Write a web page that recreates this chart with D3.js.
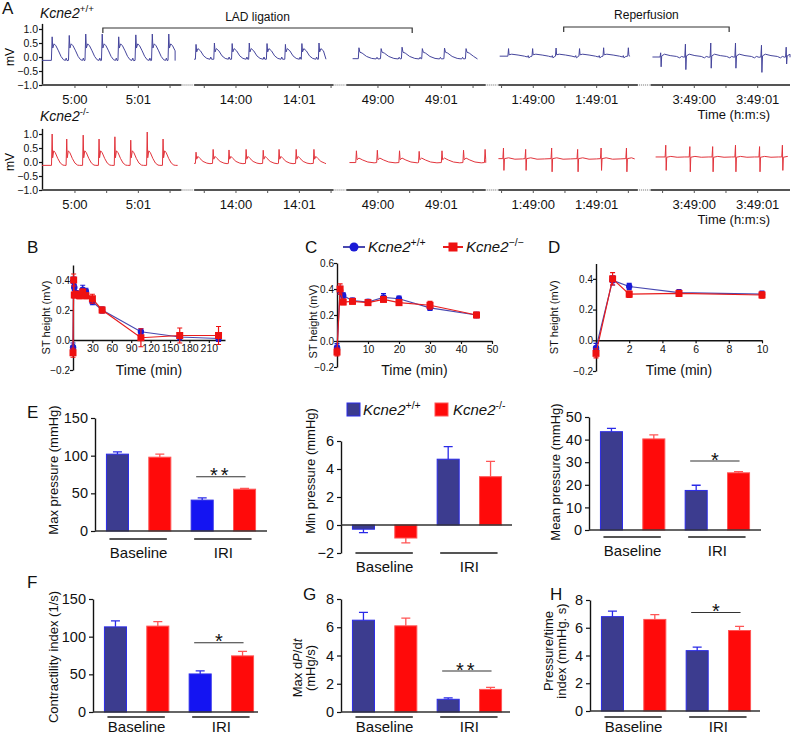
<!DOCTYPE html>
<html>
<head>
<meta charset="utf-8">
<script src="https://cdn.jsdelivr.net/npm/d3@7"></script>
<style>
  body { margin: 0; background: #fff; }
  svg { font-family: "Liberation Sans", Arial, sans-serif; }
</style>
</head>
<body>
<svg width="792" height="736"></svg>
<script>
// ---------- panel A : ECG strips ----------
var stripLabels = [["5:00", "5:01"], ["14:00", "14:01"], ["49:00", "49:01"], ["1:49:00", "1:49:01"], ["3:49:00", "3:49:01"]];
var stripLabelTime = [0.52, 0.66, 0.5, 0.55, 0.69];   // s inside each strip
var mvTicks = [-1, -0.5, 0, 0.5, 1];

var wtSpan = [[0, 2.1], [0, 2.08], [0.1, 2.07], [0.02, 2.07], [0.03, 2.2]];
var wtBeats = [
  [0.16, 0.43, 0.69, 0.95, 1.21, 1.48, 1.74, 2.0],
  [0.03, 0.32, 0.6, 0.87, 1.15, 1.44, 1.7, 1.97],
  [0.2, 0.55, 0.88, 1.2, 1.55, 1.89],
  [0.16, 0.54, 0.91, 1.28, 1.66, 2.05],
  [0.16, 0.55, 0.95, 1.34, 1.75, 2.14]
];
var wtPeak = [
  [0.72, 0.77, 0.82, 0.82, 0.72, 0.79, 0.82, 0.82],
  [0.45, 0.5, 0.48, 0.5, 0.48, 0.45, 0.48, 0.5],
  [0.33, 0.3, 0.35, 0.3, 0.32, 0.3],
  [0.3, 0.3, 0.32, 0.3, 0.33, 0.33],
  [0.15, 0.46, 0.5, 0.5, 0.42, 0.35]
];
var wtTrough = [null, null, null, null, [-0.35, -0.45, -0.4, -0.4, -0.55, -0.25]];
var wtShape = [
  [[-0.012, -0.12], [0, "R"], [0.01, 0.32], [0.03, 0.47], [0.06, 0.4], [0.1, 0.22], [0.14, 0.02], [0.18, -0.1], [0.21, -0.12], [0.222, -0.04], [0.235, -0.13]],
  [[-0.01, -0.08], [0, "R"], [0.01, 0.18], [0.03, 0.3], [0.07, 0.22], [0.12, 0.04], [0.17, -0.05], [0.22, -0.08], [0.232, 0.0], [0.245, -0.08]],
  [[-0.01, -0.06], [0, "R"], [0.015, 0.17], [0.05, 0.14], [0.12, 0.02], [0.2, -0.05], [0.27, -0.07], [0.285, -0.01], [0.3, -0.07]],
  [[-0.01, 0.03], [0, "R"], [0.008, 0.08], [0.05, 0.1], [0.15, 0.07], [0.25, 0.03], [0.3, 0.0], [0.31, 0.05], [0.32, -0.03], [0.35, 0.02]],
  [[-0.01, 0.0], [0, "R"], [0.007, "S"], [0.016, 0.04], [0.06, 0.1], [0.15, 0.05], [0.25, 0.02], [0.3, -0.03], [0.33, 0.02], [0.37, -0.01]]
];

var koSpan = [[0, 2.14], [0, 2.08], [0.05, 2.2], [0, 2.15], [0.08, 2.16]];
var koBeats = [
  [0.16, 0.39, 0.65, 0.9, 1.15, 1.4, 1.66, 1.91],
  [0.03, 0.3, 0.55, 0.82, 1.09, 1.34, 1.61, 1.89],
  [0.16, 0.49, 0.84, 1.15, 1.51, 1.85, 2.19],
  [0.08, 0.43, 0.84, 1.25, 1.62, 2.02],
  [0.24, 0.62, 0.98, 1.34, 1.72, 2.08]
];
var koPeak = [
  [1.0, 0.82, 0.96, 0.82, 0.9, 0.78, 1.07, 0.82],
  [0.35, 0.45, 0.43, 0.45, 0.42, 0.45, 0.45, 0.45],
  [0.4, 0.42, 0.4, 0.38, 0.4, 0.42, 0.45],
  [0.5, 0.45, 0.5, 0.45, 0.5, 0.5],
  [0.6, 0.55, 0.55, 0.6, 0.55, 0.6]
];
var koTrough = [null, null, null, [-0.3, -0.3, -0.35, -0.35, -0.3, -0.35], [-0.3, -0.35, -0.35, -0.35, -0.35, -0.3]];
var koShape = [
  [[-0.01, -0.12], [0, "R"], [0.008, 0.15], [0.025, 0.4], [0.05, 0.33], [0.09, 0.12], [0.13, -0.04], [0.17, -0.11], [0.2, -0.12]],
  [[-0.01, -0.05], [0, "R"], [0.01, 0.1], [0.03, 0.2], [0.06, 0.13], [0.11, 0.02], [0.17, -0.04], [0.22, -0.06]],
  [[-0.01, -0.02], [0, "R"], [0.01, 0.08], [0.04, 0.14], [0.1, 0.07], [0.18, 0.0], [0.28, -0.03]],
  [[-0.01, 0.12], [0, "R"], [0.007, "S"], [0.015, 0.12], [0.08, 0.15], [0.18, 0.1], [0.3, 0.11]],
  [[-0.01, 0.18], [0, "R"], [0.007, "S"], [0.015, 0.17], [0.08, 0.2], [0.18, 0.17], [0.3, 0.18]]
];

// brackets: [strip, time] -> [strip, time]
var ladBracket = [[0, 0.96], [2, 1.04]];
var repBracket = [[3, 1.03], [4, 1.24]];

// ---------- panels B-D : ST height ----------
var stTime = [0, 1, 2, 5, 10, 15, 20, 30, 45, 105, 165, 225];
var stWT = [-0.05, 0.39, 0.35, 0.31, 0.30, 0.335, 0.325, 0.255, 0.20, 0.055, 0.02, 0.01];
var stWTerr = [0.03, 0.03, 0.02, 0.02, 0.02, 0.03, 0.02, 0.02, 0.02, 0.02, 0.02, 0.02];
var stKO = [-0.085, 0.40, 0.30, 0.305, 0.295, 0.32, 0.295, 0.275, 0.20, 0.015, 0.03, 0.03];
var stKOerr = [0.03, 0.04, 0.02, 0.02, 0.02, 0.02, 0.02, 0.03, 0.02, 0.06, 0.05, 0.06];

// ---------- panels E-H : haemodynamics ----------
var groups = ["Baseline", "IRI"];
var maxWT = [102, 41], maxWTerr = [3, 3], maxKO = [98, 55.5], maxKOerr = [4, 1.2];
var minWT = [-0.3, 4.7], minWTerr = [0.25, 0.9], minKO = [-0.93, 3.45], minKOerr = [0.35, 1.1];
var meanWT = [43.5, 17.5], meanWTerr = [1.5, 2.3], meanKO = [40.3, 25.3], meanKOerr = [1.8, 0.5];
var conWT = [113, 50.5], conWTerr = [8, 4], conKO = [114, 74.5], conKOerr = [6, 6];
var dpWT = [6.5, 0.9], dpWTerr = [0.55, 0.1], dpKO = [6.1, 1.6], dpKOerr = [0.55, 0.15];
var ptiWT = [6.8, 4.35], ptiWTerr = [0.4, 0.25], ptiKO = [6.6, 5.8], ptiKOerr = [0.35, 0.3];

var wtTrace = "#45459c", koTrace = "#e2343c";
var wtLine = "#4848b0", wtMark = "#1a1ad6", koLine = "#e81c1c", koMark = "#ee1111";
var wtBar = "#3c3c8f", wtBright = "#1414f2", wtEdge = "#2a2ae8", koBar = "#ff0a0a", koEdge = "#ff5555";

var svg = d3.select("svg");

function supLabel(g, x, y, base, sup, size) {
  var t = g.append("text").attr("x", x).attr("y", y).attr("font-size", size).attr("fill", "#111");
  t.append("tspan").attr("font-style", "italic").text(base);
  t.append("tspan").attr("dy", -size * 0.42).attr("font-size", size * 0.7).text(sup);
  return t;
}

function letter(x, y, s) {
  svg.append("text").attr("x", x).attr("y", y).attr("font-size", 17).attr("fill", "#111").text(s);
}

function styleAxis(g, size) {
  g.attr("font-family", null).attr("font-size", size);
  g.select(".domain").attr("stroke", "#111").attr("stroke-width", 1.4);
  g.selectAll(".tick line").attr("stroke", "#111").attr("stroke-width", 1.2);
  g.selectAll(".tick text").attr("fill", "#111");
}

// ===== panel A =====
var stripDur = 2.2, stripGap = 0.2, ecgX0 = 42, ecgX1 = 790;
var pxPerSec = (ecgX1 - ecgX0) / (5 * stripDur + 4 * stripGap);
function stripScale(i) {
  var s = ecgX0 + i * (stripDur + stripGap) * pxPerSec;
  return d3.scaleLinear().domain([0, stripDur]).range([s, s + stripDur * pxPerSec]);
}

function buildTrace(beats, shape, peaks, troughs, span) {
  var pts = [];
  beats.forEach(function (b, k) {
    shape.forEach(function (p) {
      var v = p[1] === "R" ? peaks[k] : (p[1] === "S" ? troughs[k] : p[1]);
      pts.push([b + p[0], v]);
    });
  });
  var first = pts[0][1], last = pts[pts.length - 1][1];
  pts = pts.filter(function (p) { return p[0] >= span[0] && p[0] <= span[1]; });
  pts.unshift([span[0], first]);
  pts.push([span[1], last]);
  return pts;
}

function drawEcg(yZero, color, beats, shapes, peaks, troughs, spans) {
  var y = d3.scaleLinear().domain([-1, 1.2]).range([yZero + 28, yZero - 28 * 1.2]);
  var g = svg.append("g");

  var ya = g.append("g").attr("transform", "translate(" + ecgX0 + ",0)")
    .call(d3.axisLeft(y).tickValues(mvTicks).tickSize(3).tickSizeOuter(0).tickFormat(d3.format(".1f")));
  styleAxis(ya, 10.5);
  ya.selectAll(".tick text").attr("x", -4);

  g.append("text").attr("transform", "translate(10," + yZero + ") rotate(-90)")
    .attr("text-anchor", "middle").attr("dy", "0.35em").attr("font-size", 12).text("mV");

  for (var i = 0; i < 5; i++) {
    var xs = stripScale(i);
    g.append("line").attr("x1", xs(0)).attr("x2", xs(stripDur)).attr("y1", y(-1)).attr("y2", y(-1))
      .attr("stroke", "#555").attr("stroke-width", 2);
    if (i < 4) {
      g.append("line").attr("x1", xs(stripDur) + 1).attr("x2", stripScale(i + 1)(0) - 1)
        .attr("y1", y(-1)).attr("y2", y(-1))
        .attr("stroke", "#999").attr("stroke-width", 1.5).attr("stroke-dasharray", "1,1");
    }
    var lt = stripLabelTime[i];
    var ticks = d3.range(lt - 1, stripDur, 0.5).filter(function (t) { return t > 0.05 && t < stripDur - 0.02; });
    g.selectAll(null).data(ticks).enter().append("line")
      .attr("x1", function (t) { return xs(t); }).attr("x2", function (t) { return xs(t); })
      .attr("y1", y(-1)).attr("y2", y(-1) + 3).attr("stroke", "#555").attr("stroke-width", 1);
    g.selectAll(null).data([lt, lt + 1]).enter().append("text")
      .attr("x", function (t) { return xs(t); }).attr("y", y(-1) + 19)
      .attr("text-anchor", "middle").attr("font-size", 13).attr("fill", "#111")
      .text(function (t, k) { return stripLabels[i][k]; });

    var pts = buildTrace(beats[i], shapes[i], peaks[i], troughs[i], spans[i]);
    var line = d3.line().x(function (d) { return xs(d[0]); }).y(function (d) { return y(d[1]); });
    g.append("path").attr("d", line(pts)).attr("fill", "none")
      .attr("stroke", color).attr("stroke-width", 1).attr("stroke-linejoin", "round");
  }
  g.append("text").attr("x", 770).attr("y", y(-1) + 34).attr("text-anchor", "end")
    .attr("font-size", 13).attr("fill", "#111").text("Time (h:m:s)");
  return y;
}

letter(2, 14, "A");
supLabel(svg, 40, 18, "Kcne2", "+/+", 14);
supLabel(svg, 40, 121, "Kcne2", "-/-", 14);
drawEcg(57, wtTrace, wtBeats, wtShape, wtPeak, wtTrough, wtSpan);
drawEcg(162, koTrace, koBeats, koShape, koPeak, koTrough, koSpan);

function bracket(b, label, yb, yt) {
  var xa = stripScale(b[0][0])(b[0][1]), xb = stripScale(b[1][0])(b[1][1]);
  svg.append("path").attr("d", "M" + xa + "," + (yb + 5) + "V" + yb + "H" + xb + "V" + (yb + 5))
    .attr("fill", "none").attr("stroke", "#333").attr("stroke-width", 1.2);
  svg.append("text").attr("x", (xa + xb) / 2).attr("y", yt).attr("text-anchor", "middle")
    .attr("font-size", 12).attr("fill", "#111").text(label);
}
bracket(ladBracket, "LAD ligation", 28, 21);
bracket(repBracket, "Reperfusion", 27, 19);

// ===== panels B-D =====
function drawST(cfg) {
  var x = d3.scaleLinear().domain(cfg.xd).range(cfg.xr);
  var y = d3.scaleLinear().domain(cfg.yd).range(cfg.yr);
  var g = svg.append("g");
  var ya = g.append("g").attr("transform", "translate(" + cfg.xr[0] + ",0)")
    .call(d3.axisLeft(y).tickValues(cfg.yt).tickSize(3).tickSizeOuter(0).tickFormat(d3.format(".1f")));
  styleAxis(ya, 10);
  ya.selectAll(".tick text").attr("x", -3);
  var xa = g.append("g").attr("transform", "translate(0," + y(0) + ")")
    .call(d3.axisBottom(x).tickValues(cfg.xt).tickSize(3).tickSizeOuter(0));
  styleAxis(xa, 10.5);
  xa.selectAll(".tick text").attr("y", 5);

  g.append("text").attr("transform", "translate(" + cfg.lx + "," + (y(-0.2) + y(0.5)) / 2 + ") rotate(-90)")
    .attr("text-anchor", "middle").attr("dy", "0.35em").attr("font-size", 11).attr("fill", "#111").text("ST height (mV)");
  g.append("text").attr("x", (cfg.xr[0] + cfg.xr[1]) / 2).attr("y", 375).attr("text-anchor", "middle")
    .attr("font-size", 14).attr("fill", "#111").text("Time (min)");

  var idx = d3.range(stTime.length).filter(function (i) { return stTime[i] <= cfg.xd[1]; });
  var series = [
    { v: stWT, e: stWTerr, line: wtLine, mark: wtMark, sq: false },
    { v: stKO, e: stKOerr, line: koLine, mark: koMark, sq: true }
  ];
  series.forEach(function (s) {
    var line = d3.line().x(function (i) { return x(stTime[i]); }).y(function (i) { return y(s.v[i]); });
    g.append("path").attr("d", line(idx)).attr("fill", "none").attr("stroke", s.line).attr("stroke-width", 1.2);
    var eb = g.selectAll(null).data(idx).enter().append("g");
    eb.append("path").attr("d", function (i) {
      var cx = x(stTime[i]), y1 = y(s.v[i] + s.e[i]), y2 = y(s.v[i] - s.e[i]);
      return "M" + (cx - 2.5) + "," + y1 + "H" + (cx + 2.5) + "M" + cx + "," + y1 + "V" + y2 + "M" + (cx - 2.5) + "," + y2 + "H" + (cx + 2.5);
    }).attr("stroke", s.mark).attr("stroke-width", 1.2).attr("fill", "none");
    if (s.sq) {
      eb.append("rect").attr("x", function (i) { return x(stTime[i]) - 3.5; }).attr("y", function (i) { return y(s.v[i]) - 3.5; })
        .attr("width", 7).attr("height", 7).attr("fill", s.mark);
    } else {
      eb.append("circle").attr("cx", function (i) { return x(stTime[i]); }).attr("cy", function (i) { return y(s.v[i]); })
        .attr("r", 3.2).attr("fill", s.mark);
    }
  });
}

letter(27, 253, "B");
letter(305, 253, "C");
letter(548, 253, "D");
drawST({ xd: [0, 235], xr: [73, 225], xt: [0, 30, 60, 90, 120, 150, 180, 210], yd: [-0.2, 0.5], yr: [370, 265], yt: [-0.2, 0, 0.2, 0.4], lx: 46 });
drawST({ xd: [0, 50], xr: [337, 492], xt: [0, 10, 20, 30, 40, 50], yd: [-0.2, 0.6], yr: [367, 263], yt: [-0.2, 0, 0.2, 0.4, 0.6], lx: 313 });
drawST({ xd: [0, 10], xr: [596, 762], xt: [0, 2, 4, 6, 8, 10], yd: [-0.2, 0.5], yr: [371, 263.5], yt: [-0.2, 0, 0.2, 0.4], lx: 554 });

// legend B-D
var lg = svg.append("g");
lg.append("line").attr("x1", 343).attr("x2", 365).attr("y1", 247).attr("y2", 247).attr("stroke", wtLine).attr("stroke-width", 2);
lg.append("circle").attr("cx", 354).attr("cy", 247).attr("r", 4.5).attr("fill", wtMark);
supLabel(lg, 368, 252, "Kcne2", "+/+", 15);
lg.append("line").attr("x1", 443).attr("x2", 463).attr("y1", 247).attr("y2", 247).attr("stroke", koLine).attr("stroke-width", 2);
lg.append("rect").attr("x", 448.5).attr("y", 242.5).attr("width", 9).attr("height", 9).attr("fill", koMark);
supLabel(lg, 466, 252, "Kcne2", "\u2212/\u2212", 15);

// ===== panels E-H =====
function drawBars(cfg) {
  var y = d3.scaleLinear().domain(cfg.yd).range([cfg.yb, cfg.yt]);
  var x = d3.scaleBand().domain([0, 1, 2, 3]).range([cfg.x0, cfg.x0 + 172]).paddingInner(0.48).paddingOuter(0.27);
  var bw = x.bandwidth();
  var g = svg.append("g");

  var bars = [];
  groups.forEach(function (gr, k) {
    bars.push({ pos: 2 * k, v: cfg.wt[k], e: cfg.wte[k], fill: cfg.wtFill[k], edge: wtEdge });
    bars.push({ pos: 2 * k + 1, v: cfg.ko[k], e: cfg.koe[k], fill: koBar, edge: koEdge });
  });

  g.selectAll(null).data(bars).enter().append("path")
    .attr("d", function (d) {
      var cx = x(d.pos) + bw / 2, y1 = y(d.v), y2 = y(d.v + (d.v < 0 ? -d.e : d.e));
      return "M" + cx + "," + y1 + "V" + y2 + "M" + (cx - 4.5) + "," + y2 + "H" + (cx + 4.5);
    })
    .attr("stroke", function (d) { return d.edge; }).attr("stroke-width", 1.3).attr("fill", "none");
  g.selectAll(null).data(bars).enter().append("rect")
    .attr("x", function (d) { return x(d.pos); })
    .attr("y", function (d) { return Math.min(y(d.v), y(0)); })
    .attr("width", bw)
    .attr("height", function (d) { return Math.abs(y(d.v) - y(0)); })
    .attr("fill", function (d) { return d.fill; })
    .attr("stroke", function (d) { return d.edge; }).attr("stroke-width", 1);

  var ya = g.append("g").attr("transform", "translate(" + cfg.x0 + ",0)")
    .call(d3.axisLeft(y).tickValues(cfg.ticks).tickSize(4).tickSizeOuter(0));
  styleAxis(ya, 14.5);
  ya.selectAll(".tick text").attr("x", -7);
  g.append("line").attr("x1", cfg.x0).attr("x2", cfg.x1).attr("y1", y(0)).attr("y2", y(0))
    .attr("stroke", "#333").attr("stroke-width", 1.5);

  var ly = cfg.yb + cfg.gap;
  groups.forEach(function (gr, k) {
    var a = x(2 * k), b = x(2 * k + 1) + bw;
    g.append("line").attr("x1", a + 3).attr("x2", b - 4).attr("y1", ly).attr("y2", ly)
      .attr("stroke", "#555").attr("stroke-width", 1.8);
    g.append("text").attr("x", (a + b) / 2).attr("y", ly + cfg.tdy).attr("text-anchor", "middle")
      .attr("font-size", 15).attr("fill", "#111").text(gr);
  });

  if (cfg.sig) {
    var sy = y(cfg.sig), sa = x(2) + 5, sb = x(3) + bw / 2 + 1;
    g.append("line").attr("x1", sa).attr("x2", sb).attr("y1", sy).attr("y2", sy).attr("stroke", "#333").attr("stroke-width", 1.1);
    g.append("text").attr("x", (sa + sb) / 2).attr("y", sy + 5.5).attr("text-anchor", "middle")
      .attr("font-size", 20).attr("letter-spacing", cfg.stars.length > 1 ? 3 : 0).attr("fill", "#111").text(cfg.stars);
  }

  cfg.label.forEach(function (s, k) {
    g.append("text").attr("transform", "translate(" + cfg.lx[k] + "," + cfg.lc + ") rotate(-90)")
      .attr("text-anchor", "middle").attr("dy", "0.35em").attr("font-size", 13).attr("fill", "#111")
      .html(s);
  });
}

letter(27, 418, "E");
letter(27, 588, "F");
letter(303, 600, "G");
letter(550, 600, "H");

drawBars({ x0: 95, x1: 267, yt: 418, yb: 531, yd: [0, 150], ticks: [0, 50, 100, 150], gap: 8, tdy: 18.5,
  wt: maxWT, wte: maxWTerr, ko: maxKO, koe: maxKOerr, wtFill: [wtBar, wtBright],
  sig: 72, stars: "**", label: ["Max pressure (mmHg)"], lx: [53], lc: 470 });
drawBars({ x0: 341, x1: 512, yt: 441, yb: 553, yd: [-2, 6], ticks: [-2, 0, 2, 4, 6], gap: 0, tdy: 18.5,
  wt: minWT, wte: minWTerr, ko: minKO, koe: minKOerr, wtFill: [wtBar, wtBar],
  sig: null, label: ["Min pressure (mmHg)"], lx: [310], lc: 471 });
drawBars({ x0: 589, x1: 761, yt: 417, yb: 530, yd: [0, 50], ticks: [0, 10, 20, 30, 40, 50], gap: 7, tdy: 18.5,
  wt: meanWT, wte: meanWTerr, ko: meanKO, koe: meanKOerr, wtFill: [wtBar, wtBar],
  sig: 30.5, stars: "*", label: ["Mean pressure (mmHg)"], lx: [555], lc: 472 });
drawBars({ x0: 93, x1: 258, yt: 599, yb: 712, yd: [0, 150], ticks: [0, 50, 100, 150], gap: 5, tdy: 15,
  wt: conWT, wte: conWTerr, ko: conKO, koe: conKOerr, wtFill: [wtBar, wtBright],
  sig: 92, stars: "*", label: ["Contractility index (1/s)"], lx: [53], lc: 657 });
drawBars({ x0: 341, x1: 510, yt: 599, yb: 712, yd: [0, 8], ticks: [0, 2, 4, 6, 8], gap: 5, tdy: 15,
  wt: dpWT, wte: dpWTerr, ko: dpKO, koe: dpKOerr, wtFill: [wtBar, wtBar],
  sig: 2.9, stars: "**", label: ["Max d<tspan font-style='italic'>P</tspan>/d<tspan font-style='italic'>t</tspan>", "(mHg/s)"], lx: [297, 310], lc: 668 });
drawBars({ x0: 590, x1: 760, yt: 600, yb: 711, yd: [0, 8], ticks: [0, 2, 4, 6, 8], gap: 6, tdy: 15,
  wt: ptiWT, wte: ptiWTerr, ko: ptiKO, koe: ptiKOerr, wtFill: [wtBar, wtBar],
  sig: 7.1, stars: "*", label: ["Pressure/time", "index (mmHg. s)"], lx: [548, 561], lc: 651 });

// legend E
var le = svg.append("g");
le.append("rect").attr("x", 347).attr("y", 403).attr("width", 13).attr("height", 13).attr("fill", wtBar).attr("stroke", wtEdge);
supLabel(le, 363, 415, "Kcne2", "+/+", 15);
le.append("rect").attr("x", 435).attr("y", 403).attr("width", 13).attr("height", 13).attr("fill", koBar).attr("stroke", koEdge);
supLabel(le, 453, 415, "Kcne2", "-/-", 15);
</script>
</body>
</html>
